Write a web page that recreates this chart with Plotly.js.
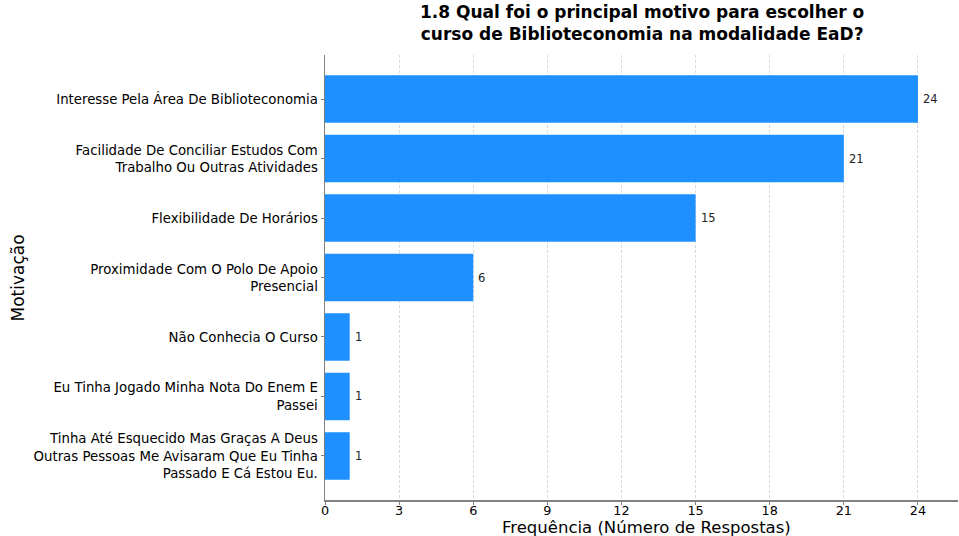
<!DOCTYPE html>
<html>
<head>
<meta charset="utf-8">
<script src="https://cdn.plot.ly/plotly-3.0.1.min.js"></script>
<style>html,body{margin:0;padding:0;background:#fff}#chart{width:959px;height:536px}</style>
</head>
<body>
<div id="chart"></div>
<script>
const categories = [
  "Interesse Pela Área De Biblioteconomia",
  "Facilidade De Conciliar Estudos Com<br>Trabalho Ou Outras Atividades",
  "Flexibilidade De Horários",
  "Proximidade Com O Polo De Apoio<br>Presencial",
  "Não Conhecia O Curso",
  "Eu Tinha Jogado Minha Nota Do Enem E<br>Passei",
  "Tinha Até Esquecido Mas Graças A Deus<br>Outras Pessoas Me Avisaram Que Eu Tinha<br>Passado E Cá Estou Eu."
];
const counts = [24, 21, 15, 6, 1, 1, 1];
const xTicks = [0, 3, 6, 9, 12, 15, 18, 21, 24];

const font = "DejaVu Sans, sans-serif";
const trace = {
  type: "bar",
  orientation: "h",
  x: counts,
  y: categories,
  width: 0.8,
  marker: {color: "#1E90FF", line: {width: 0}},
  hoverinfo: "none"
};
const annotations = counts.map((v, i) => ({
  x: v, y: categories[i], xref: "x", yref: "y",
  text: String(v), showarrow: false, xanchor: "left", xshift: 3,
  font: {family: font, size: 11.5, color: "#222"}
}));
annotations.push({
  text: "Motivação", xref: "paper", yref: "paper", x: -0.485, y: 0.5,
  xanchor: "center", yanchor: "middle", textangle: -90, showarrow: false,
  font: {family: font, size: 17, color: "#000"}
});
annotations.push({
  text: "<b>1.8 Qual foi o principal motivo para escolher o<br>curso de Biblioteconomia na modalidade EaD?</b>",
  xref: "paper", yref: "paper", x: 0.5, y: 1, xanchor: "center", yanchor: "bottom",
  yshift: 9, showarrow: false,
  font: {family: font, size: 17, color: "#000"}
});
annotations.push({
  text: "Frequência (Número de Respostas)",
  xref: "paper", yref: "paper", x: 0.508, y: 0, xanchor: "center", yanchor: "middle",
  yshift: -27, showarrow: false, borderpad: 0,
  font: {family: font, size: 16.5, color: "#000"}
});
const layout = {
  width: 959, height: 536,
  margin: {l: 325, r: 1, t: 55, b: 36},
  paper_bgcolor: "#fff", plot_bgcolor: "#fff",
  font: {family: font, color: "#000"},
  showlegend: false,
  xaxis: {
    range: [0, 25.62],
    tickvals: xTicks, ticktext: xTicks.map(String),
    showgrid: true, gridcolor: "#cfcfcf", griddash: "3px,2px", gridwidth: 0.8,
    zeroline: false,
    showline: true, linecolor: "#808080", linewidth: 1.5,
    ticks: "outside", ticklen: 3, tickcolor: "#808080",
    ticklabelstandoff: -5,
    tickfont: {family: font, size: 12.8, color: "#000"}
  },
  yaxis: {
    type: "category",
    range: [6.74, -0.74],
    showgrid: false, zeroline: false,
    showline: true, linecolor: "#808080", linewidth: 1.5,
    ticks: "outside", ticklen: 3, tickcolor: "#808080",
    tickfont: {family: font, size: 13.3, color: "#000"}
  },
  annotations: annotations
};
Plotly.newPlot("chart", [trace], layout, {displayModeBar: false, staticPlot: true});
</script>
</body>
</html>
